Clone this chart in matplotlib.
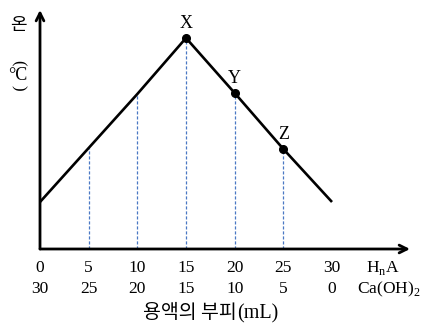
import matplotlib
matplotlib.use("Agg")
import matplotlib.pyplot as plt

plt.rcParams["mathtext.fontset"] = "custom"
plt.rcParams["mathtext.rm"] = "Liberation Serif"

# Data
hna_vol = [0, 5, 10, 15, 20, 25, 30]
caoh2_vol = [30, 25, 20, 15, 10, 5, 0]
temperature = [47, 101, 155, 211, 156, 100, 47]
point_labels = {15: "X", 20: "Y", 25: "Z"}
dashed_at = [5, 10, 15, 20, 25]

SERIF = ["Liberation Serif", "Noto Sans CJK KR"]
KR = ["Noto Sans CJK KR", "Liberation Serif"]

W, H = 422, 329
fig = plt.figure(figsize=(W / 100, H / 100), dpi=100)
ax_l, ax_b, ax_r, ax_t = 40, 249, 410, 10
ax = fig.add_axes([ax_l / W, 1 - ax_b / H, (ax_r - ax_l) / W, (ax_b - ax_t) / H])
px_per_unit = (332 - 40) / 30.0
ax.set_xlim(0, (ax_r - ax_l) / px_per_unit)
ax.set_ylim(0, ax_b - ax_t)
for s in ax.spines.values():
    s.set_visible(False)
ax.set_xticks([])
ax.set_yticks([])
ax.patch.set_alpha(0)

# axes arrows
ax.annotate("", xy=(1.0, 0), xytext=(0, 0), xycoords="axes fraction",
            arrowprops=dict(arrowstyle="->", lw=2.0, color="black",
                            mutation_scale=14, shrinkA=0, shrinkB=0))
ax.annotate("", xy=(0, 1.0), xytext=(0, 0), xycoords="axes fraction",
            arrowprops=dict(arrowstyle="->", lw=2.0, color="black",
                            mutation_scale=14, shrinkA=0, shrinkB=0))

# dashed verticals
tmap = dict(zip(hna_vol, temperature))
for xv in dashed_at:
    ax.plot([xv, xv], [0, tmap[xv]], ls=(0, (2.5, 1.5)), lw=0.9, color="#4a78c4", zorder=1)

# main line
ax.plot(hna_vol, temperature, color="black", lw=1.9, zorder=2, solid_capstyle="butt")
for xv, lab in point_labels.items():
    ax.plot([xv], [tmap[xv]], "o", color="black", ms=5.5, zorder=3)
    ax.annotate(lab, (xv, tmap[xv]), xytext=(0, 4), textcoords="offset points",
                ha="center", va="bottom", fontsize=13, family=SERIF)

# tick labels
def fx(xv):
    return (ax_l + xv * px_per_unit) / W

FS = 12.5
for xv, a, b in zip(hna_vol, hna_vol, caoh2_vol):
    fig.text(fx(xv), 1 - 268 / H, str(a), ha="center", va="center", fontsize=FS, family=SERIF)
    fig.text(fx(xv), 1 - 289 / H, str(b), ha="center", va="center", fontsize=FS, family=SERIF)
fig.text(366 / W, 1 - 268 / H, r"H$_\mathregular{n}$A", ha="left", va="center", fontsize=FS, family=SERIF)
fig.text(357 / W, 1 - 289 / H, r"Ca(OH)$_\mathregular{2}$", ha="left", va="center", fontsize=FS, family=SERIF)

fig.text(237 / W, 1 - 312 / H, "용액의 부피", ha="right", va="center", fontsize=14,
         family=KR, fontweight="light")
fig.text(237 / W, 1 - 314 / H, "(mL)", ha="left", va="center", fontsize=14.5, family=SERIF)

# vertical y label
fig.text(18 / W, 1 - 25 / H, "온", ha="center", va="center", fontsize=13, family=KR, fontweight="light")
fig.text(18 / W, 1 - 63 / H, "(", ha="center", va="center", fontsize=12, rotation=-90, family=SERIF)
fig.text(18 / W, 1 - 76 / H, "°C", ha="center", va="center", fontsize=13, family=SERIF)
fig.text(18 / W, 1 - 88 / H, ")", ha="center", va="center", fontsize=12, rotation=-90, family=SERIF)

fig.savefig("out.png", dpi=100)
